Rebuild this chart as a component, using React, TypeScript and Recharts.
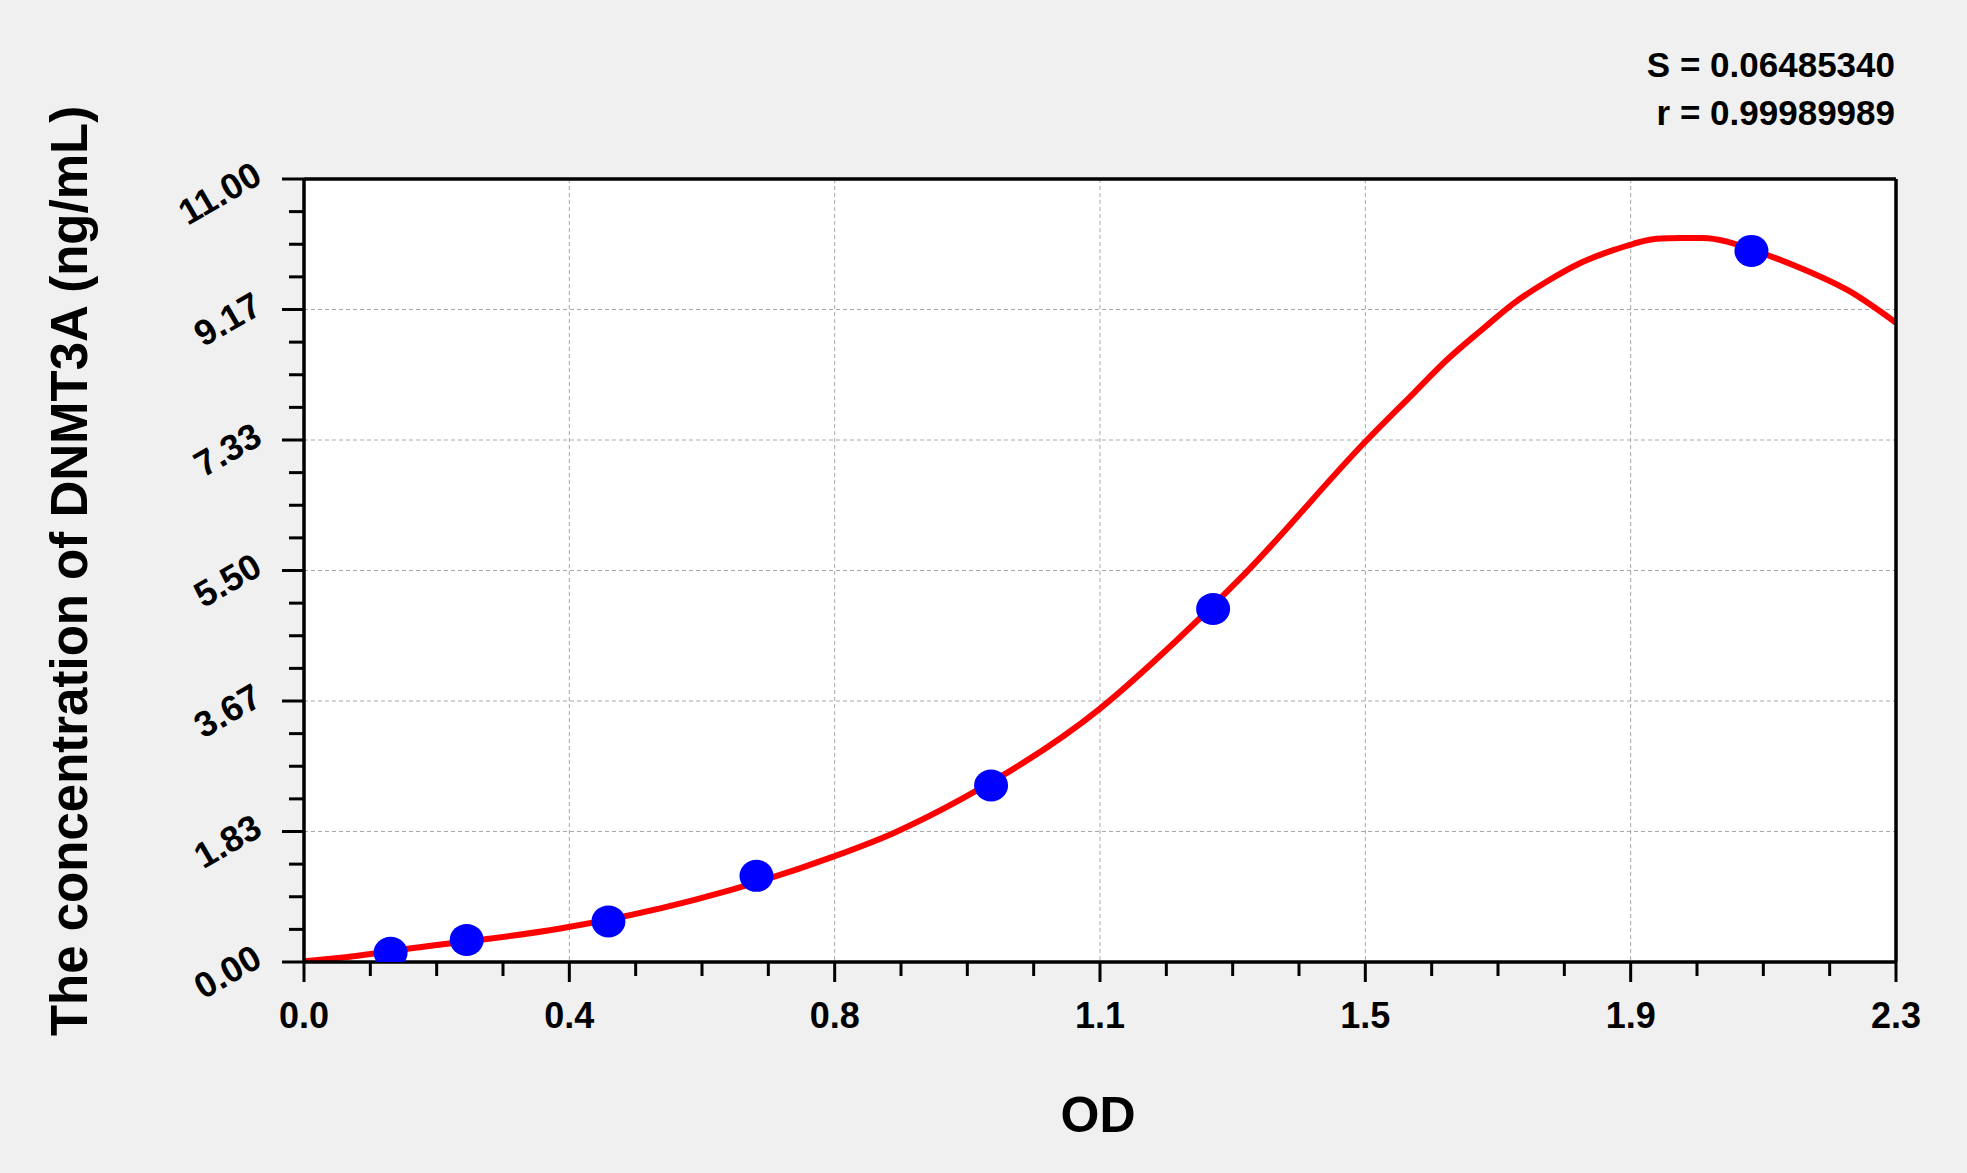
import React from 'react';
import {
  ComposedChart,
  Line,
  Scatter,
  XAxis,
  YAxis,
  CartesianGrid,
} from 'recharts';

// ---- data ----
const STANDARD_OD = [0.124, 0.233, 0.436, 0.648, 0.984, 1.302, 2.073];
const STANDARD_CONC = [0.13, 0.31, 0.57, 1.21, 2.48, 4.96, 9.99];

const CURVE_OD = [
  0, 0.052, 0.176, 0.367, 0.558, 0.758, 0.844, 0.94, 1.14, 1.25, 1.348, 1.522,
  1.589, 1.637, 1.689, 1.732, 1.78, 1.828, 1.875, 1.904, 1.937, 1.971, 2.004,
  2.038, 2.073, 2.143, 2.214, 2.28,
];
const CURVE_CONC = [
  0.01, 0.06, 0.22, 0.47, 0.87, 1.48, 1.81, 2.28, 3.56, 4.52, 5.46, 7.33, 7.99,
  8.46, 8.9, 9.25, 9.56, 9.82, 10.0, 10.09, 10.16, 10.17, 10.17, 10.12, 10.01,
  9.75, 9.42, 8.98,
];

const X_MAX = 2.28;
const Y_MAX = 11;
const X_TICK_LABELS = ['0.0', '0.4', '0.8', '1.1', '1.5', '1.9', '2.3'];
const Y_TICK_LABELS = ['0.00', '1.83', '3.67', '5.50', '7.33', '9.17', '11.00'];
const STATS_LINES = ['S = 0.06485340', 'r = 0.99989989'];
const X_TITLE = 'OD';
const Y_TITLE = 'The concentration of DNMT3A (ng/mL)';

// ---- derived tables ----
const standards = STANDARD_OD.map((x, i) => ({ x, y: STANDARD_CONC[i] }));
const curve = CURVE_OD.map((x, i) => ({ x, y: CURVE_CONC[i] }));
const X_TICKS = Array.from({ length: 25 }, (_, i) => +((i * X_MAX) / 24).toFixed(6));
const Y_TICKS = Array.from({ length: 25 }, (_, i) => +((i * Y_MAX) / 24).toFixed(6));
const X_MAJOR = Array.from({ length: 7 }, (_, i) => +((i * X_MAX) / 6).toFixed(6));
const Y_MAJOR = Array.from({ length: 7 }, (_, i) => +((i * Y_MAX) / 6).toFixed(6));

const FONT = '"Liberation Sans", Arial, Helvetica, sans-serif';
const W = 1967;
const H = 1173;

const XTick = (props: any) => {
  const { x, y, index } = props;
  const major = index % 4 === 0;
  return (
    <g>
      <line x1={x} x2={x} y1={y} y2={y + (major ? 20 : 14)} stroke="#000" strokeWidth={3} />
      {major && (
        <text
          x={x}
          y={y + 66}
          textAnchor="middle"
          fontSize={36}
          fontWeight="bold"
          fontFamily={FONT}
          fill="#000"
        >
          {X_TICK_LABELS[index / 4]}
        </text>
      )}
    </g>
  );
};

const YTick = (props: any) => {
  const { x, y, index } = props;
  const major = index % 4 === 0;
  const ax = x - 40;
  const ay = y + 3;
  return (
    <g>
      <line x1={x - (major ? 22 : 15)} x2={x} y1={y} y2={y} stroke="#000" strokeWidth={3} />
      {major && (
        <text
          x={ax}
          y={ay}
          textAnchor="end"
          fontSize={36}
          fontWeight="bold"
          fontFamily={FONT}
          fill="#000"
          transform={`rotate(-30, ${ax}, ${ay})`}
        >
          {Y_TICK_LABELS[index / 4]}
        </text>
      )}
    </g>
  );
};

const Dot = (props: any) => {
  const { cx, cy } = props;
  return <ellipse cx={cx} cy={cy} rx={17} ry={16} fill="#0000ff" />;
};

export default function App() {
  const border = { stroke: '#000', strokeWidth: 3.5 };
  return (
    <div
      style={{
        position: 'absolute',
        left: 0,
        top: 0,
        width: W,
        height: H,
        background: '#f0f0f0',
        overflow: 'hidden',
      }}
    >
      <ComposedChart
        width={W}
        height={H}
        margin={{ top: 178, right: 70, bottom: 210, left: 303 }}
      >
        <CartesianGrid
          fill="#ffffff"
          stroke="#a8a8a8"
          strokeWidth={1}
          strokeDasharray="4 3"
          horizontalValues={Y_MAJOR}
          verticalValues={X_MAJOR}
        />
        <XAxis
          dataKey="x"
          type="number"
          domain={[0, X_MAX]}
          ticks={X_TICKS}
          interval={0}
          height={1}
          tickSize={0}
          tickMargin={0}
          tickLine={false}
          tick={XTick}
          axisLine={border}
          allowDataOverflow
        />
        <YAxis
          dataKey="y"
          type="number"
          domain={[0, Y_MAX]}
          ticks={Y_TICKS}
          interval={0}
          width={1}
          tickSize={0}
          tickMargin={0}
          tickLine={false}
          tick={YTick}
          axisLine={border}
          allowDataOverflow
        />
        <XAxis
          xAxisId="top"
          orientation="top"
          type="number"
          domain={[0, X_MAX]}
          height={1}
          tick={false}
          tickLine={false}
          axisLine={border}
        />
        <YAxis
          yAxisId="right"
          orientation="right"
          type="number"
          domain={[0, Y_MAX]}
          width={1}
          tick={false}
          tickLine={false}
          axisLine={border}
        />
        <Scatter data={standards} dataKey="y" shape={Dot} isAnimationActive={false} />
        <Line
          data={curve}
          dataKey="y"
          type="monotone"
          stroke="#ff0000"
          strokeWidth={6}
          dot={false}
          activeDot={false}
          isAnimationActive={false}
        />
      </ComposedChart>
      <svg
        width={W}
        height={H}
        style={{ position: 'absolute', left: 0, top: 0, pointerEvents: 'none' }}
      >
        <text
          x={1895}
          y={77}
          textAnchor="end"
          fontSize={35}
          fontWeight="bold"
          fontFamily={FONT}
          fill="#000"
        >
          {STATS_LINES[0]}
        </text>
        <text
          x={1895}
          y={125}
          textAnchor="end"
          fontSize={35}
          fontWeight="bold"
          fontFamily={FONT}
          fill="#000"
        >
          {STATS_LINES[1]}
        </text>
        <text
          x={1098}
          y={1132}
          textAnchor="middle"
          fontSize={50}
          fontWeight="bold"
          fontFamily={FONT}
          fill="#000"
        >
          {X_TITLE}
        </text>
        <text
          x={87}
          y={571}
          textAnchor="middle"
          fontSize={51}
          fontWeight="bold"
          fontFamily={FONT}
          fill="#000"
          transform="rotate(-90, 87, 571)"
        >
          {Y_TITLE}
        </text>
      </svg>
    </div>
  );
}
